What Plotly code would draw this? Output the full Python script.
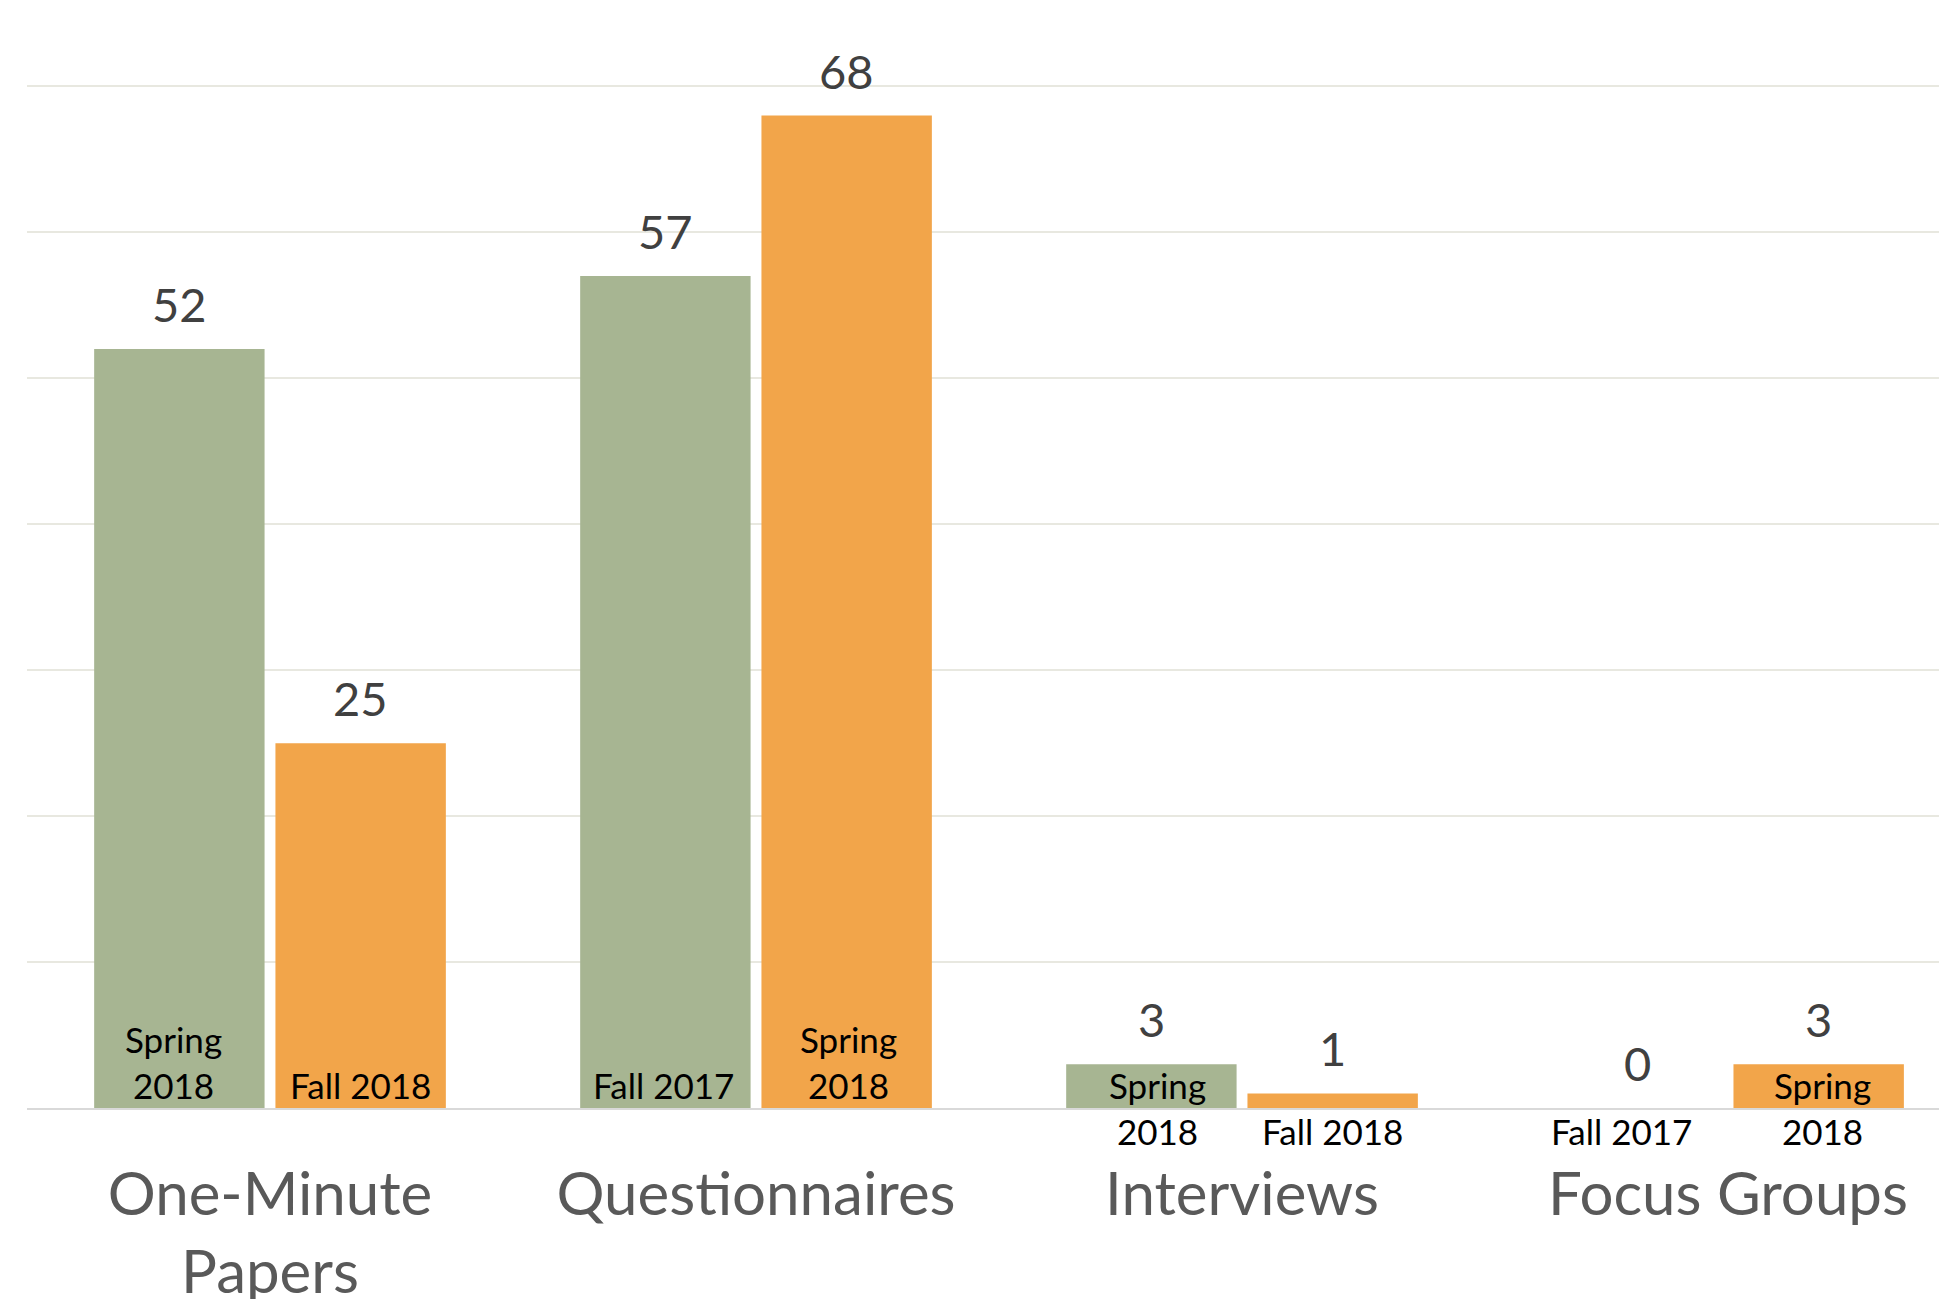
import plotly.graph_objects as go

# ---- data ----
categories = ["One-Minute Papers", "Questionnaires", "Interviews", "Focus Groups"]
tick_labels = ["One-Minute<br>Papers", "Questionnaires", "Interviews", "Focus Groups"]
first_values = [52, 57, 3, 0]
second_values = [25, 68, 1, 3]
first_terms = ["Spring<br>2018", "Fall 2017", "Spring<br>2018", "Fall 2017"]
second_terms = ["Fall 2018", "Spring<br>2018", "Fall 2018", "Spring<br>2018"]

# ---- styles ----
GREEN = "#A7B592"
ORANGE = "#F2A54A"
FONT = "Lato"
BAR_OFFSET_PX = 90.6          # half slot width in px (bar centre offset from category centre)
VALUE_GAP = 15                # yshift for value labels
SHORT_BAR_LIMIT = 5           # bars lower than this get term labels pushed below the axis
TERM_SHIFT_TALL = 0
TERM_SHIFT_SHORT = -46
first_term_nudge = [-6, -2, 6, -16]    # horizontal px nudges of term labels
second_term_nudge = [0, 2, 0, 4]

fig = go.Figure()
fig.add_trace(go.Bar(x=categories, y=first_values, marker=dict(color=GREEN, line=dict(width=0)),
                     name="First term", hoverinfo="skip"))
fig.add_trace(go.Bar(x=categories, y=second_values, marker=dict(color=ORANGE, line=dict(width=0)),
                     name="Second term", hoverinfo="skip"))

annotations = []
for vals, terms, nudges, sign in ((first_values, first_terms, first_term_nudge, -1),
                                  (second_values, second_terms, second_term_nudge, 1)):
    for cat, v, term, nd in zip(categories, vals, terms, nudges):
        annotations.append(dict(
            x=cat, y=v, xref="x", yref="y", text=str(v), showarrow=False,
            xshift=sign * BAR_OFFSET_PX, yshift=VALUE_GAP, yanchor="bottom",
            font=dict(family=FONT, size=47, color="#404040")))
        annotations.append(dict(
            x=cat, y=0, xref="x", yref="y", text=term, showarrow=False,
            xshift=sign * BAR_OFFSET_PX + nd,
            yshift=TERM_SHIFT_SHORT if v < SHORT_BAR_LIMIT else TERM_SHIFT_TALL,
            yanchor="bottom", font=dict(family=FONT, size=35, color="#000000")))

fig.update_layout(
    width=1947, height=1299,
    margin=dict(l=19, r=0, t=74, b=199),
    paper_bgcolor="white", plot_bgcolor="white",
    barmode="group", bargap=0.254, bargroupgap=0.06,
    showlegend=False,
    annotations=annotations,
    xaxis=dict(
        range=[-0.5, 3.467], tickmode="array", tickvals=categories, ticktext=tick_labels,
        tickfont=dict(family=FONT, size=60, color="#595959"),
        showline=True, linecolor="#D9D9D9", linewidth=2,
        showgrid=False, ticks="", ticklabelstandoff=33, automargin=False,
    ),
    yaxis=dict(
        range=[0, 70.3], tick0=0, dtick=10, showticklabels=False,
        showgrid=True, gridcolor="#E8E8E0", gridwidth=1.5, zeroline=False, showline=False,
        automargin=False,
    ),
)

fig.update_traces(cliponaxis=False)
fig.write_html("out.html")
